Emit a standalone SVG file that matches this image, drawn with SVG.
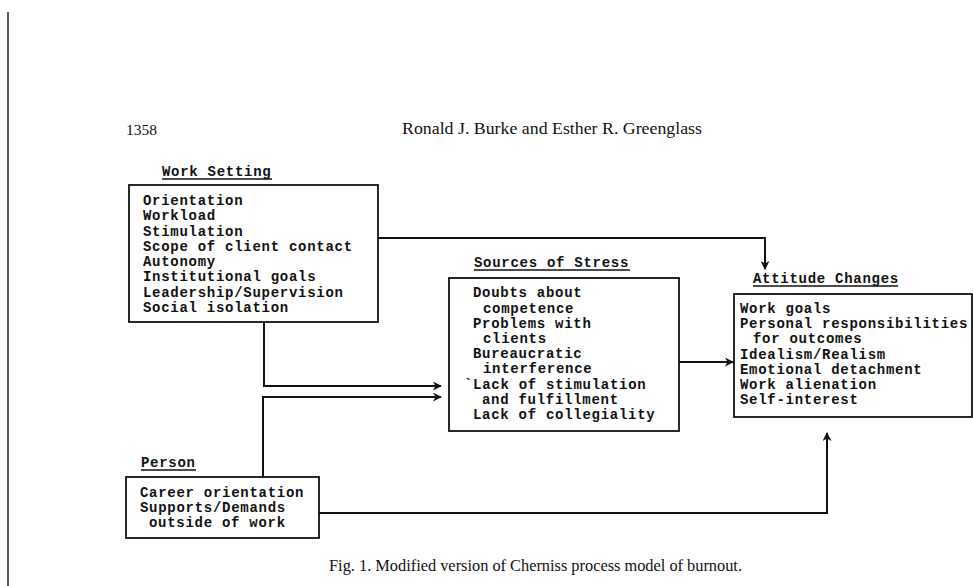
<svg xmlns="http://www.w3.org/2000/svg" width="973" height="586" viewBox="0 0 973 586">
<defs>
<style>
.box{fill:#fff;stroke:#111;stroke-width:1.8}
.t{font-family:"Liberation Mono","Courier New",monospace;font-weight:bold;font-size:14px;letter-spacing:0.72px;fill:#111}
.hdr{font-family:"Liberation Serif","Times New Roman",serif;font-size:15.5px;fill:#111}
.ul{stroke:#111;stroke-width:1.6}
.c{fill:none;stroke:#111;stroke-width:2}
</style>
<marker id="ah" viewBox="0 0 10 10" refX="9" refY="5" markerWidth="9" markerHeight="9" markerUnits="userSpaceOnUse" orient="auto">
<path d="M0,0 L10,5 L0,10 L3,5 Z" fill="#111"/>
</marker>
</defs>
<rect width="973" height="586" fill="#fff"/>
<line x1="8" y1="12" x2="8" y2="586" stroke="#333" stroke-width="1.6"/>
<text class="hdr" x="126" y="135">1358</text>
<text class="hdr" x="402" y="134" textLength="300" lengthAdjust="spacingAndGlyphs" style="font-size:16.5px">Ronald J. Burke and Esther R. Greenglass</text>

<g id="connectors">
<path class="c" d="M378,238 H765 V269" marker-end="url(#ah)"/>
<path class="c" d="M264,322 V386 H441" marker-end="url(#ah)"/>
<path class="c" d="M263,477 V397 H441" marker-end="url(#ah)"/>
<path class="c" d="M679,362 H733" marker-end="url(#ah)"/>
<path class="c" d="M319,513 H827 V433" marker-end="url(#ah)"/>
</g>

<g id="work-setting">
<text class="t" x="162" y="176">Work Setting</text>
<line class="ul" x1="162" y1="179" x2="272" y2="179"/>
<rect class="box" x="129" y="185" width="249" height="137"/>
<text class="t" x="143" y="205">Orientation</text>
<text class="t" x="143" y="220">Workload</text>
<text class="t" x="143" y="236">Stimulation</text>
<text class="t" x="143" y="251">Scope of client contact</text>
<text class="t" x="143" y="266">Autonomy</text>
<text class="t" x="143" y="281">Institutional goals</text>
<text class="t" x="143" y="297">Leadership/Supervision</text>
<text class="t" x="143" y="312">Social isolation</text>
</g>

<g id="sources-of-stress">
<text class="t" x="474" y="267">Sources of Stress</text>
<line class="ul" x1="474" y1="270" x2="630" y2="270"/>
<rect class="box" x="449" y="278" width="230" height="153"/>
<text class="t" x="473" y="297">Doubts about</text>
<text class="t" x="483" y="313">competence</text>
<text class="t" x="473" y="328">Problems with</text>
<text class="t" x="483" y="343">clients</text>
<text class="t" x="473" y="358">Bureaucratic</text>
<text class="t" x="483" y="373">interference</text>
<text class="t" x="464" y="389">`Lack of stimulation</text>
<text class="t" x="482" y="404">and fulfillment</text>
<text class="t" x="473" y="419">Lack of collegiality</text>
</g>

<g id="attitude-changes">
<text class="t" x="753" y="283">Attitude Changes</text>
<line class="ul" x1="753" y1="286" x2="898" y2="286"/>
<rect class="box" x="734" y="294" width="238" height="123"/>
<text class="t" x="740" y="313">Work goals</text>
<text class="t" x="740" y="328">Personal responsibilities</text>
<text class="t" x="753" y="343">for outcomes</text>
<text class="t" x="740" y="359">Idealism/Realism</text>
<text class="t" x="740" y="374">Emotional detachment</text>
<text class="t" x="740" y="389">Work alienation</text>
<text class="t" x="740" y="404">Self-interest</text>
</g>

<g id="person">
<text class="t" x="141" y="467">Person</text>
<line class="ul" x1="141" y1="470" x2="196" y2="470"/>
<rect class="box" x="126" y="477" width="193" height="61"/>
<text class="t" x="140" y="497">Career orientation</text>
<text class="t" x="140" y="512">Supports/Demands</text>
<text class="t" x="149" y="527">outside of work</text>
</g>

<text class="hdr" x="329" y="571" textLength="413" lengthAdjust="spacingAndGlyphs" style="font-size:16px">Fig. 1. Modified version of Cherniss process model of burnout.</text>
</svg>
